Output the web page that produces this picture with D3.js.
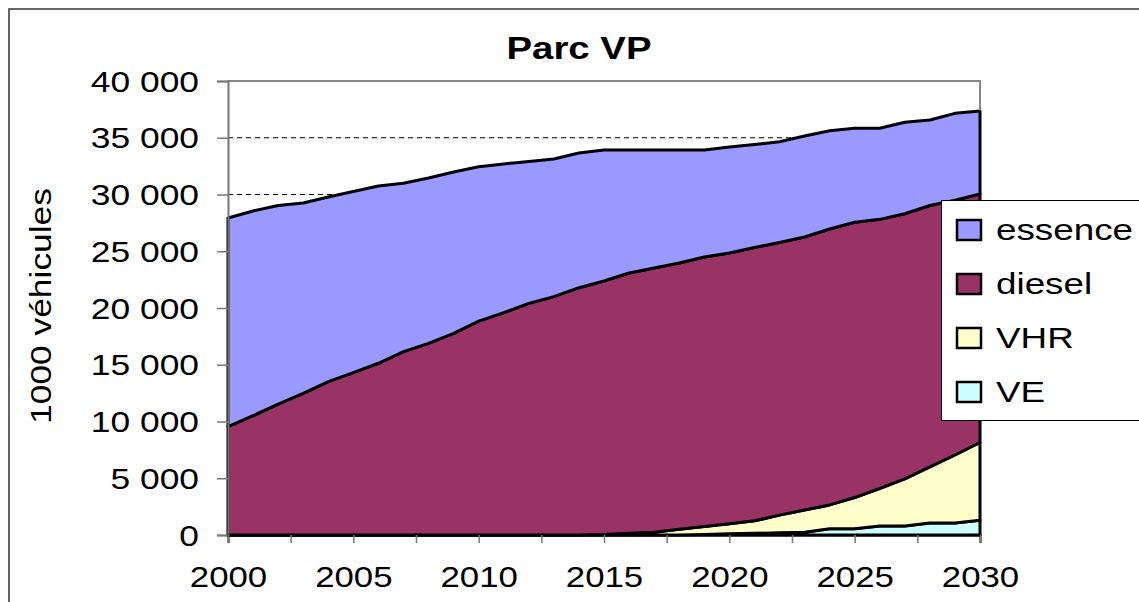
<!doctype html>
<html>
<meta http-equiv="Content-type" content="text/html; charset=utf-8" />
<head>
  <title>Parc VP</title>
  <script type="text/javascript" src="https://cdn.jsdelivr.net/npm/d3@7"></script>
  <style>
  body{margin:0;background:#fff;}
  text{font-family:"Liberation Sans", Arial, sans-serif;fill:#000;}
  </style>
</head>
<body>
<script>
    // parc de voitures particulieres, en 1000 vehicules
    var years = d3.range(2000, 2031);

    var essence = [18390, 18040, 17490, 16770, 16270, 15960, 15620, 14840, 14560, 14210,
                   13600, 13100, 12500, 12130, 11870, 11540, 10840, 10400, 9960, 9420,
                   9340, 9070, 8880, 8890, 8660, 8280, 8020, 8060, 7530, 7650, 7320];
    var diesel  = [9540, 10510, 11540, 12480, 13510, 14300, 15130, 16150, 16890, 17770,
                   18850, 19590, 20410, 21000, 21790, 22330, 22930, 23270, 23460, 23750,
                   23850, 24080, 24020, 24060, 24310, 24250, 23710, 23350, 23030, 22450, 21890];
    var vhr     = [0, 0, 0, 0, 0, 0, 0, 0, 0, 0,
                   0, 0, 0, 0, 0, 50, 150, 250, 500, 700,
                   900, 1100, 1550, 1950, 2100, 2750, 3300, 4150, 4950, 6000, 6850];
    var ve      = [0, 0, 0, 0, 0, 0, 0, 0, 0, 0,
                   0, 0, 0, 0, 0, 0, 0, 0, 0, 50,
                   100, 150, 200, 250, 550, 550, 800, 800, 1050, 1050, 1300];

    var seriesNames = ['essence', 'diesel', 'VHR', 'VE'];
    var colors = {essence:'#9999ff', diesel:'#993366', VHR:'#ffffcc', VE:'#ccffff'};
    var yTicks = d3.range(0, 40001, 5000);
    var xTicks = d3.range(2000, 2030.1, 2.5);

    var table = years.map(function(yr, i){
        return {year:yr, essence:essence[i], diesel:diesel[i], VHR:vhr[i], VE:ve[i]};
    });

    var W = 1139, H = 602;
    var pLeft = 228, pRight = 980, pTop = 81, pBottom = 535;
    var sx = 1.2; // texte un peu elargi comme dans Excel

    var svg = d3.select('body').append('svg')
        .attr('width', W)
        .attr('height', H);

    svg.append('rect')
        .attr('x', 9).attr('y', 9)
        .attr('width', 1300).attr('height', 800)
        .attr('fill', '#fff')
        .attr('stroke', '#333').attr('stroke-width', 1.5);

    var x = d3.scaleLinear().domain([2000, 2030]).range([pLeft, pRight]);
    var y = d3.scaleLinear().domain([0, 40000]).range([pBottom, pTop]);

    // grille
    svg.append('g').selectAll('line')
        .data(yTicks.filter(function(v){ return v > 0 && v < 40000; }))
        .enter().append('line')
        .attr('x1', pLeft).attr('x2', pRight)
        .attr('y1', function(d){ return y(d); })
        .attr('y2', function(d){ return y(d); })
        .attr('stroke', '#000').attr('stroke-width', 1)
        .attr('stroke-dasharray', '5,4');

    var stack = d3.stack().keys(['VE', 'VHR', 'diesel', 'essence']);
    var layers = stack(table);

    var area = d3.area()
        .x(function(d){ return x(d.data.year); })
        .y0(function(d){ return y(d[0]); })
        .y1(function(d){ return y(d[1]); });

    svg.append('g').selectAll('path')
        .data(layers)
        .enter().append('path')
        .attr('d', area)
        .attr('fill', function(d){ return colors[d.key]; })
        .attr('stroke', '#000')
        .attr('stroke-width', 3)
        .attr('stroke-linejoin', 'round');

    // cadre de la zone de traçage
    svg.append('path')
        .attr('d', 'M' + pLeft + ',' + y(40000) + 'H' + pRight + 'V' + y(37400))
        .attr('fill', 'none')
        .attr('stroke', '#888').attr('stroke-width', 2);

    var fmt = function(v){ return d3.format(',')(v).replace(/,/g, ' '); };

    var yAxis = svg.append('g')
        .attr('transform', 'translate(' + pLeft + ',0)')
        .call(d3.axisLeft(y).tickValues(yTicks).tickSize(11).tickPadding(18).tickFormat(fmt));
    yAxis.select('.domain').attr('stroke', '#777').attr('stroke-width', 2);
    yAxis.selectAll('.tick line').attr('stroke', '#777').attr('stroke-width', 1.5);
    yAxis.selectAll('.tick text')
        .attr('font-size', 29)
        .attr('font-family', null)
        .attr('x', -29 / 1.22)
        .attr('dy', '0.35em')
        .attr('transform', 'scale(1.22,1)');

    var xAxis = svg.append('g')
        .attr('transform', 'translate(0,' + pBottom + ')')
        .call(d3.axisBottom(x).tickValues(xTicks).tickSize(8).tickPadding(23)
            .tickFormat(function(d){ return d % 5 === 0 ? d : ''; }));
    xAxis.select('.domain').attr('stroke', '#000').attr('stroke-width', 2);
    xAxis.selectAll('.tick line').attr('stroke', '#777').attr('stroke-width', 1.5);
    xAxis.selectAll('.tick text')
        .attr('font-size', 29)
        .attr('font-family', null)
        .attr('transform', 'scale(' + sx + ',1)');

    // titre
    svg.append('text')
        .attr('transform', 'translate(579,59) scale(' + sx + ',1)')
        .attr('text-anchor', 'middle')
        .attr('font-size', 32)
        .attr('font-weight', 'bold')
        .text('Parc VP');

    svg.append('text')
        .attr('transform', 'translate(51,306) rotate(-90) scale(1.22,1)')
        .attr('text-anchor', 'middle')
        .attr('font-size', 29)
        .text('1000 véhicules');

    // legende
    var legend = svg.append('g');
    legend.append('rect')
        .attr('x', 941.5).attr('y', 200.5)
        .attr('width', 300).attr('height', 220)
        .attr('fill', '#fff')
        .attr('stroke', '#000').attr('stroke-width', 1);

    var items = legend.selectAll('g.item')
        .data(seriesNames)
        .enter().append('g')
        .attr('class', 'item')
        .attr('transform', function(d, i){ return 'translate(0,' + (230 + i * 54) + ')'; });
    items.append('rect')
        .attr('x', 957).attr('y', -10)
        .attr('width', 24).attr('height', 20)
        .attr('fill', function(d){ return colors[d]; })
        .attr('stroke', '#000').attr('stroke-width', 2.5);
    items.append('text')
        .attr('transform', 'translate(996,10) scale(1.27,1)')
        .attr('font-size', 29)
        .text(function(d){ return d; });
</script>
</body>
</html>
